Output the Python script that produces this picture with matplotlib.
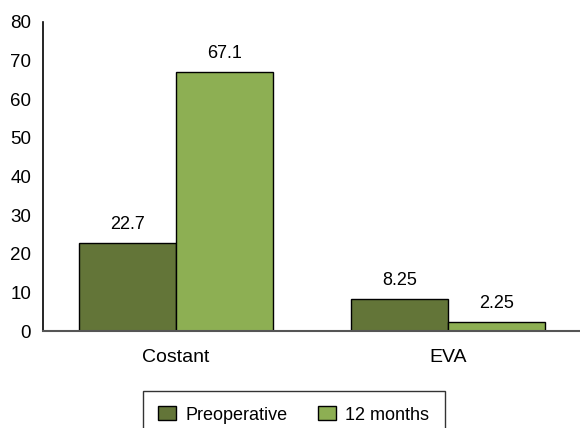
import numpy as np
import matplotlib
matplotlib.use('Agg')
from matplotlib import pyplot as plt

categories = ['Costant', 'EVA']
preoperative = [22.7, 8.25]
months12 = [67.1, 2.25]
pre_labels = ['22.7', '8.25']
m12_labels = ['67.1', '2.25']

plt.rcParams['font.family'] = ['Liberation Sans', 'DejaVu Sans']

fig = plt.figure(figsize=(5.8, 4.28), dpi=100)
ax = fig.add_axes([43/580, 1 - 331/428, 537/580, 309/428])

x = np.arange(len(categories))
w = 0.357
b1 = ax.bar(x - w/2, preoperative, w, color='#637538', edgecolor='black', linewidth=1, label='Preoperative')
b2 = ax.bar(x + w/2, months12, w, color='#8daf53', edgecolor='black', linewidth=1, label='12 months')

for rect, lab in zip(b1, pre_labels):
    ax.text(rect.get_x() + rect.get_width()/2, rect.get_height() + 2.6, lab, ha='center', va='bottom', fontsize=13)
for rect, lab in zip(b2, m12_labels):
    ax.text(rect.get_x() + rect.get_width()/2, rect.get_height() + 2.6, lab, ha='center', va='bottom', fontsize=13)

ax.set_xlim(-0.489, 1.485)
ax.set_ylim(0, 80)
ax.set_yticks(range(0, 81, 10))
ax.set_xticks(x)
ax.set_xticklabels(categories, fontsize=14)
ax.tick_params(axis='y', length=0, pad=8.5, labelsize=13.5)
ax.tick_params(axis='x', length=0, pad=13)
ax.spines['top'].set_visible(False)
ax.spines['right'].set_visible(False)
ax.spines['bottom'].set_color('#555555')
ax.spines['bottom'].set_linewidth(1.5)
ax.spines['left'].set_linewidth(1.2)

# legend box runs off the bottom edge like in the original
leg = fig.legend(loc='upper left', bbox_to_anchor=(143/580, 1 - 391/428), ncol=2,
                 frameon=True, fancybox=False, edgecolor='black', fontsize=13,
                 handlelength=1.0, handleheight=0.8, columnspacing=1.7,
                 borderpad=0.85, handletextpad=0.5, borderaxespad=0)
leg.get_frame().set_linewidth(1.0)
for h in leg.legend_handles:
    h.set_edgecolor('black')

fig.savefig('out.png', dpi=100)
